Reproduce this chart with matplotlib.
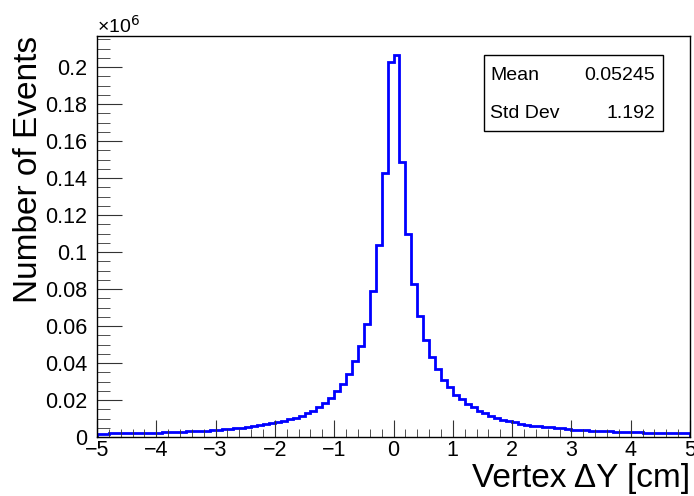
import numpy as np
import matplotlib
matplotlib.use("Agg")
import matplotlib.pyplot as plt
from matplotlib.ticker import MultipleLocator

plt.rcParams['font.family'] = ['Liberation Sans', 'DejaVu Sans']

# bin edges: 100 bins from -5 to 5
bin_lo = -5.0
bin_hi = 5.0
n_bins = 100

# bin contents in units of 10^6
left_tail = [0.0018, 0.0018, 0.0019, 0.0019, 0.0020, 0.0020, 0.0021, 0.0021, 0.0022, 0.0023,
             0.0024, 0.0025, 0.0026, 0.0027, 0.0028, 0.0030, 0.0031, 0.0033, 0.0035, 0.0037,
             0.0039, 0.0041, 0.0044, 0.0047, 0.0050, 0.0054, 0.0058, 0.0063, 0.0068, 0.0074,
             0.0081, 0.0088, 0.0096, 0.0105, 0.0113]
left_core = [0.0128, 0.0142, 0.0163, 0.0185, 0.0209, 0.0250, 0.0289, 0.0343, 0.0410, 0.0492,
             0.0613, 0.0792, 0.1040, 0.1430, 0.2030]
right_core = [0.2065, 0.1488, 0.1098, 0.0829, 0.0652, 0.0523, 0.0433, 0.0365, 0.0307, 0.0268]
right_tail = [0.0229, 0.0203, 0.0181, 0.0162, 0.0143, 0.0128, 0.0115, 0.0102, 0.0093, 0.0086,
              0.0079, 0.0072, 0.0066, 0.0062, 0.0058, 0.0055, 0.0052, 0.0050, 0.0047, 0.0045,
              0.0040, 0.0038, 0.0036, 0.0034, 0.0033, 0.0032, 0.0031, 0.0029, 0.0028, 0.0027,
              0.0026, 0.0025, 0.0024, 0.0024, 0.0022, 0.0022, 0.0021, 0.0021, 0.0020, 0.0020]
counts = left_tail + left_core + right_core + right_tail

stat_names = ['Mean', 'Std Dev']
stat_values = ['0.05245', '1.192']

edges = np.linspace(bin_lo, bin_hi, n_bins + 1)

fig = plt.figure(figsize=(6.94, 4.96), dpi=100)
ax = fig.add_axes([97 / 694, 1 - 437 / 496, (690 - 97) / 694, (437 - 36) / 496])

ax.stairs(counts, edges, color='#0000ff', linewidth=2)
ax.set_xlim(bin_lo, bin_hi)
ax.set_ylim(0, 1.05 * max(counts))

ax.xaxis.set_minor_locator(MultipleLocator(0.2))
ax.yaxis.set_minor_locator(MultipleLocator(0.005))
ax.set_yticks([0, 0.02, 0.04, 0.06, 0.08, 0.1, 0.12, 0.14, 0.16, 0.18, 0.2])
ax.set_yticklabels(['0', '0.02', '0.04', '0.06', '0.08', '0.1', '0.12', '0.14', '0.16', '0.18', '0.2'])
ax.set_xticks(range(-5, 6))
ax.set_xticklabels(['\u22125', '\u22124', '\u22123', '\u22122', '\u22121', '0', '1', '2', '3', '4', '5'])

ax.tick_params(which='both', direction='in', top=False, right=False, labelsize=15.5, color='#333333')
ax.tick_params(axis='x', which='major', length=12, pad=2)
ax.tick_params(axis='x', which='minor', length=6)
ax.tick_params(axis='y', which='major', length=18, pad=7)
ax.tick_params(axis='y', which='minor', length=9)
for s in ax.spines.values():
    s.set_linewidth(1)

ax.set_xlabel('Vertex \u0394Y [cm]', fontsize=24, loc='right')
ax.xaxis.set_label_coords(1.0, -0.065)
ax.set_ylabel('Number of Events', fontsize=24, loc='top')
ax.yaxis.set_label_coords(-0.09, 1.0)

fig.text(97 / 694, 1 - 26 / 496, '\u00d710$^{6}$', fontsize=14, ha='left', va='center')

# stats box
bx0, bx1 = 484 / 694, 663 / 694
by0, by1 = 1 - 131 / 496, 1 - 55 / 496
fig.patches.append(plt.Rectangle((bx0, by0), bx1 - bx0, by1 - by0, transform=fig.transFigure,
                                 facecolor='white', edgecolor='black', linewidth=1))
for i, (name, val) in enumerate(zip(stat_names, stat_values)):
    yy = 1 - (75 + 38 * i) / 496
    fig.text(490 / 694, yy, name, fontsize=14, ha='left', va='center')
    fig.text(655 / 694, yy, val, fontsize=14, ha='right', va='center')

fig.savefig('out.png', dpi=100)
